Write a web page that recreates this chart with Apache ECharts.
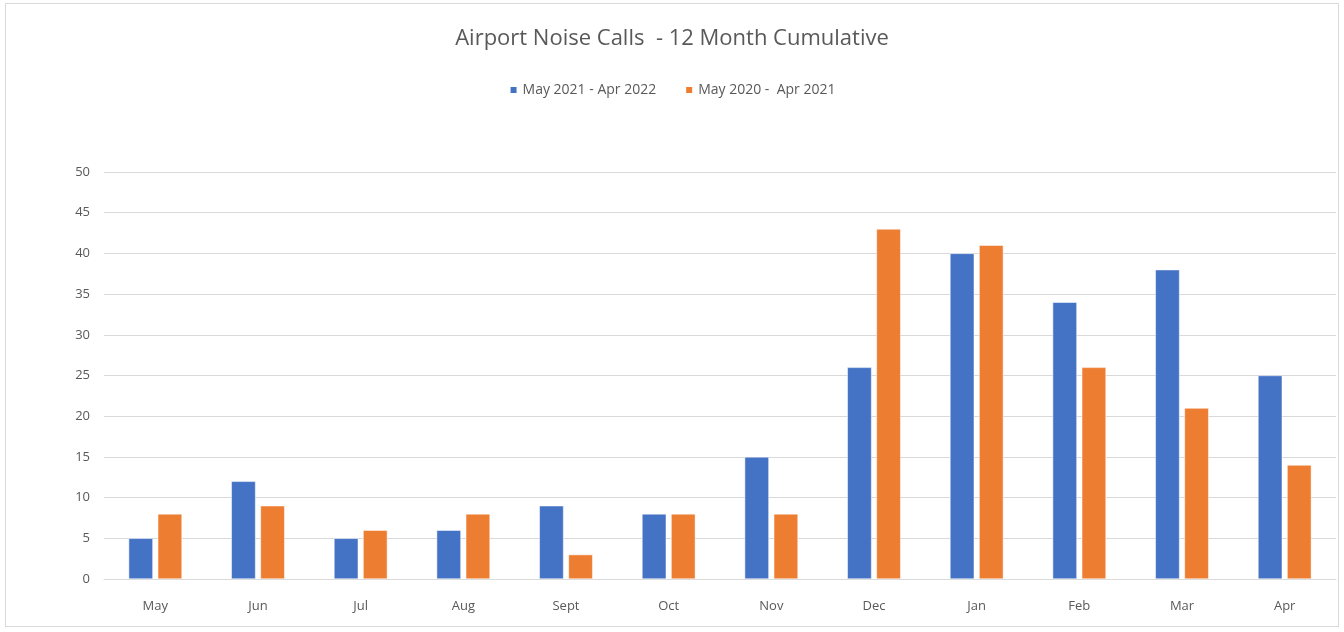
<!DOCTYPE html>
<html>
<head>
<meta charset="utf-8">
<script src="https://cdn.jsdelivr.net/npm/echarts@6/dist/echarts.min.js"></script>
<style>
  html, body { margin: 0; padding: 0; background: #fff; }
  #chart { position: absolute; left: 5px; top: 3px; width: 1334px; height: 624px; border: 1px solid #d9d9d9; box-sizing: border-box; }
</style>
</head>
<body>
<div id="chart"></div>
<script>
const months = ['May', 'Jun', 'Jul', 'Aug', 'Sept', 'Oct', 'Nov', 'Dec', 'Jan', 'Feb', 'Mar', 'Apr'];
const seriesNames = ['May 2021 - Apr 2022', 'May 2020 -  Apr 2021'];
const calls2122 = [5, 12, 5, 6, 9, 8, 15, 26, 40, 34, 38, 25];
const calls2021 = [8, 9, 6, 8, 3, 8, 8, 43, 41, 26, 21, 14];

const textColor = '#595959';
const font = 'Open Sans';

const myChart = echarts.init(document.getElementById('chart'));
myChart.setOption({
    animation: false,
    color: ['#4472C4', '#ED7D31'],
    title: {
        text: 'Airport Noise Calls  - 12 Month Cumulative',
        left: 'center',
        top: 19,
        textStyle: { color: textColor, fontFamily: font, fontWeight: 'normal', fontSize: 22 }
    },
    legend: {
        top: 74,
        left: 'center',
        itemWidth: 8,
        itemHeight: 8,
        itemGap: 28,
        icon: 'rect',
        textStyle: { color: textColor, fontFamily: font, fontSize: 14 },
        data: seriesNames
    },
    grid: { left: 98, right: 2, top: 168, bottom: 47 },
    xAxis: {
        type: 'category',
        data: months,
        axisLine: { lineStyle: { color: '#d9d9d9' } },
        axisTick: { show: false },
        axisLabel: { color: textColor, fontFamily: font, fontSize: 13, margin: 21 }
    },
    yAxis: {
        type: 'value',
        min: 0,
        max: 50,
        interval: 5,
        axisLine: { show: false },
        axisTick: { show: false },
        splitLine: { lineStyle: { color: '#d9d9d9', width: 1 } },
        axisLabel: { color: textColor, fontFamily: font, fontSize: 13, margin: 14 }
    },
    series: [
        {
            name: seriesNames[0],
            type: 'bar',
            data: calls2122,
            barGap: '20%',
            barCategoryGap: '48%',
            itemStyle: { borderColor: '#fff', borderWidth: 0.5 }
        },
        {
            name: seriesNames[1],
            type: 'bar',
            data: calls2021,
            barGap: '20%',
            barCategoryGap: '48%',
            itemStyle: { borderColor: '#fff', borderWidth: 0.5 }
        }
    ]
});
</script>
</body>
</html>
